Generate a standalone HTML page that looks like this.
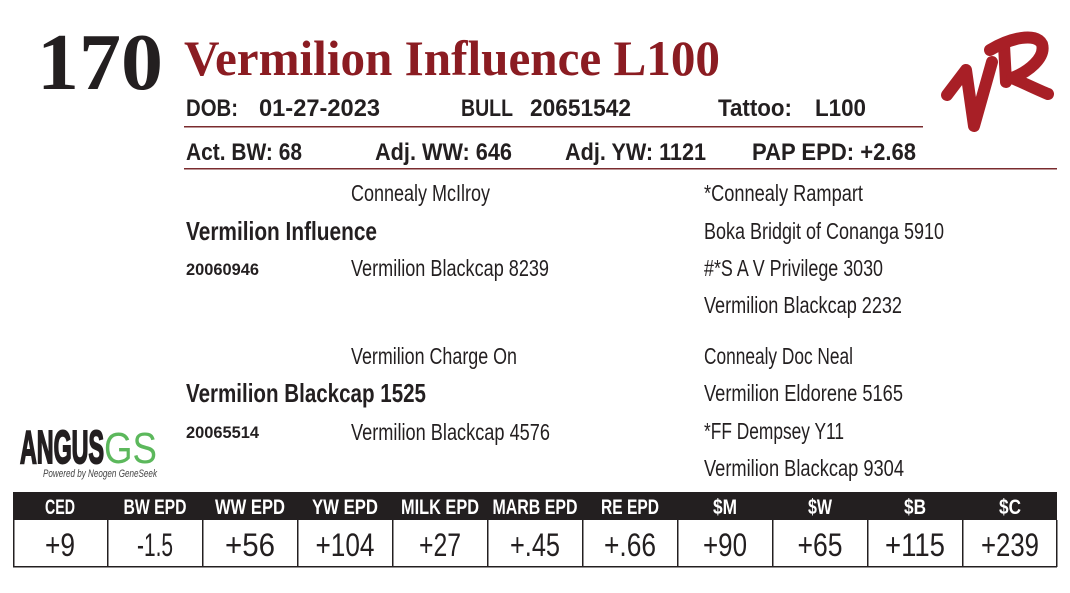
<!DOCTYPE html>
<html><head><meta charset="utf-8"><style>
html,body{margin:0;padding:0;background:#fff;}
svg{display:block;}
text{font-family:"Liberation Sans Narrow","Liberation Sans",sans-serif;fill:#231f20;}
.s{font-family:"Liberation Serif",serif;font-weight:bold;}
.b{font-weight:bold;}
.w{fill:#fff;font-weight:bold;}
</style></head><body>
<svg width="1070" height="593" viewBox="0 0 1070 593" xmlns="http://www.w3.org/2000/svg">
<rect width="1070" height="593" fill="#fff"/>
<text class="s" x="37" y="89" font-size="80" textLength="126" lengthAdjust="spacingAndGlyphs">170</text>
<text class="s" x="184" y="75" font-size="50" style="fill:#8b1c22" textLength="536" lengthAdjust="spacingAndGlyphs">Vermilion Influence L100</text>

<g font-size="24">
<text class="b" x="186" y="116" textLength="52" lengthAdjust="spacingAndGlyphs">DOB:</text>
<text class="b" x="259" y="116" textLength="121" lengthAdjust="spacingAndGlyphs">01-27-2023</text>
<text class="b" x="461" y="116" textLength="52" lengthAdjust="spacingAndGlyphs">BULL</text>
<text class="b" x="530" y="116" textLength="101" lengthAdjust="spacingAndGlyphs">20651542</text>
<text class="b" x="718" y="116" textLength="74" lengthAdjust="spacingAndGlyphs">Tattoo:</text>
<text class="b" x="815" y="116" textLength="51" lengthAdjust="spacingAndGlyphs">L100</text>
</g>
<rect x="184" y="126" width="739" height="1.5" fill="#7a2b2e"/>
<g font-size="24">
<text class="b" x="186" y="160" textLength="116" lengthAdjust="spacingAndGlyphs">Act. BW: 68</text>
<text class="b" x="375" y="160" textLength="137" lengthAdjust="spacingAndGlyphs">Adj. WW: 646</text>
<text class="b" x="565" y="160" textLength="141" lengthAdjust="spacingAndGlyphs">Adj. YW: 1121</text>
<text class="b" x="752" y="160" textLength="164" lengthAdjust="spacingAndGlyphs">PAP EPD: +2.68</text>
</g>
<rect x="184" y="168" width="873" height="1.5" fill="#7a2b2e"/>

<g font-size="23">
<text x="351" y="201" textLength="139" lengthAdjust="spacingAndGlyphs">Connealy McIlroy</text>
<text class="b" x="186" y="240" font-size="26" textLength="191" lengthAdjust="spacingAndGlyphs">Vermilion Influence</text>
<text class="b" x="186" y="275" font-size="17" textLength="73" lengthAdjust="spacingAndGlyphs">20060946</text>
<text x="351" y="276" textLength="198" lengthAdjust="spacingAndGlyphs">Vermilion Blackcap 8239</text>
<text x="704" y="201" textLength="159" lengthAdjust="spacingAndGlyphs">*Connealy Rampart</text>
<text x="704" y="239" textLength="240" lengthAdjust="spacingAndGlyphs">Boka Bridgit of Conanga 5910</text>
<text x="704" y="276" textLength="179" lengthAdjust="spacingAndGlyphs">#*S A V Privilege 3030</text>
<text x="704" y="313" textLength="198" lengthAdjust="spacingAndGlyphs">Vermilion Blackcap 2232</text>

<text x="351" y="364" textLength="166" lengthAdjust="spacingAndGlyphs">Vermilion Charge On</text>
<text class="b" x="186" y="402" font-size="26" textLength="240" lengthAdjust="spacingAndGlyphs">Vermilion Blackcap 1525</text>
<text class="b" x="186" y="438" font-size="17" textLength="73" lengthAdjust="spacingAndGlyphs">20065514</text>
<text x="351" y="440" textLength="199" lengthAdjust="spacingAndGlyphs">Vermilion Blackcap 4576</text>
<text x="704" y="364" textLength="149" lengthAdjust="spacingAndGlyphs">Connealy Doc Neal</text>
<text x="704" y="401" textLength="199" lengthAdjust="spacingAndGlyphs">Vermilion Eldorene 5165</text>
<text x="704" y="439" textLength="140" lengthAdjust="spacingAndGlyphs">*FF Dempsey Y11</text>
<text x="704" y="476" textLength="200" lengthAdjust="spacingAndGlyphs">Vermilion Blackcap 9304</text>
</g>

<!-- Angus GS logo -->
<text class="b" x="20" y="463" font-size="46" textLength="84" lengthAdjust="spacingAndGlyphs" stroke="#231f20" stroke-width="2">ANGUS</text>
<text x="104" y="463" font-size="44" style="fill:#5cb85c" textLength="53" lengthAdjust="spacingAndGlyphs">GS</text>
<text x="43" y="477" font-size="11" font-style="italic" textLength="114" lengthAdjust="spacingAndGlyphs" style="fill:#444">Powered by Neogen GeneSeek</text>

<!-- VR logo -->
<g fill="none" stroke="#a81f26" stroke-width="12" stroke-linecap="round" stroke-linejoin="round">
<path d="M947 95 L966 70 L974 126 L992 62"/>
<path d="M1004 45 L1006 82"/>
<path d="M990 50 C1010 38 1036 32 1042 44 C1046 58 1028 72 1012 78 C1026 84 1038 90 1048 94"/>
</g>

<!-- EPD table -->
<rect x="13" y="492" width="1044" height="28" fill="#231f20"/>
<rect x="13" y="566" width="1044" height="1.5" fill="#231f20"/>
<g fill="#231f20">
<rect x="13" y="520" width="1.5" height="47"/>
<rect x="107" y="520" width="1.5" height="47"/>
<rect x="202" y="520" width="1.5" height="47"/>
<rect x="297" y="520" width="1.5" height="47"/>
<rect x="392" y="520" width="1.5" height="47"/>
<rect x="487" y="520" width="1.5" height="47"/>
<rect x="582" y="520" width="1.5" height="47"/>
<rect x="677" y="520" width="1.5" height="47"/>
<rect x="772" y="520" width="1.5" height="47"/>
<rect x="867" y="520" width="1.5" height="47"/>
<rect x="962" y="520" width="1.5" height="47"/>
<rect x="1056" y="520" width="1.5" height="47"/>
</g>
<g font-size="21" text-anchor="middle">
<text class="w" x="60" y="514" textLength="30" lengthAdjust="spacingAndGlyphs">CED</text>
<text class="w" x="155" y="514" textLength="63" lengthAdjust="spacingAndGlyphs">BW EPD</text>
<text class="w" x="250" y="514" textLength="70" lengthAdjust="spacingAndGlyphs">WW EPD</text>
<text class="w" x="345" y="514" textLength="66" lengthAdjust="spacingAndGlyphs">YW EPD</text>
<text class="w" x="440" y="514" textLength="78" lengthAdjust="spacingAndGlyphs">MILK EPD</text>
<text class="w" x="535" y="514" textLength="85" lengthAdjust="spacingAndGlyphs">MARB EPD</text>
<text class="w" x="630" y="514" textLength="58" lengthAdjust="spacingAndGlyphs">RE EPD</text>
<text class="w" x="725" y="514" textLength="24" lengthAdjust="spacingAndGlyphs">$M</text>
<text class="w" x="820" y="514" textLength="24" lengthAdjust="spacingAndGlyphs">$W</text>
<text class="w" x="915" y="514" textLength="22" lengthAdjust="spacingAndGlyphs">$B</text>
<text class="w" x="1010" y="514" textLength="22" lengthAdjust="spacingAndGlyphs">$C</text>
</g>
<g font-size="32" text-anchor="middle">
<text x="60" y="556" textLength="30" lengthAdjust="spacingAndGlyphs">+9</text>
<text x="155" y="556" textLength="36" lengthAdjust="spacingAndGlyphs">-1.5</text>
<text x="250" y="556" textLength="50" lengthAdjust="spacingAndGlyphs">+56</text>
<text x="345" y="556" textLength="59" lengthAdjust="spacingAndGlyphs">+104</text>
<text x="440" y="556" textLength="42" lengthAdjust="spacingAndGlyphs">+27</text>
<text x="535" y="556" textLength="50" lengthAdjust="spacingAndGlyphs">+.45</text>
<text x="630" y="556" textLength="52" lengthAdjust="spacingAndGlyphs">+.66</text>
<text x="725" y="556" textLength="44" lengthAdjust="spacingAndGlyphs">+90</text>
<text x="820" y="556" textLength="45" lengthAdjust="spacingAndGlyphs">+65</text>
<text x="915" y="556" textLength="60" lengthAdjust="spacingAndGlyphs">+115</text>
<text x="1010" y="556" textLength="58" lengthAdjust="spacingAndGlyphs">+239</text>
</g>
</svg>
</body></html>
